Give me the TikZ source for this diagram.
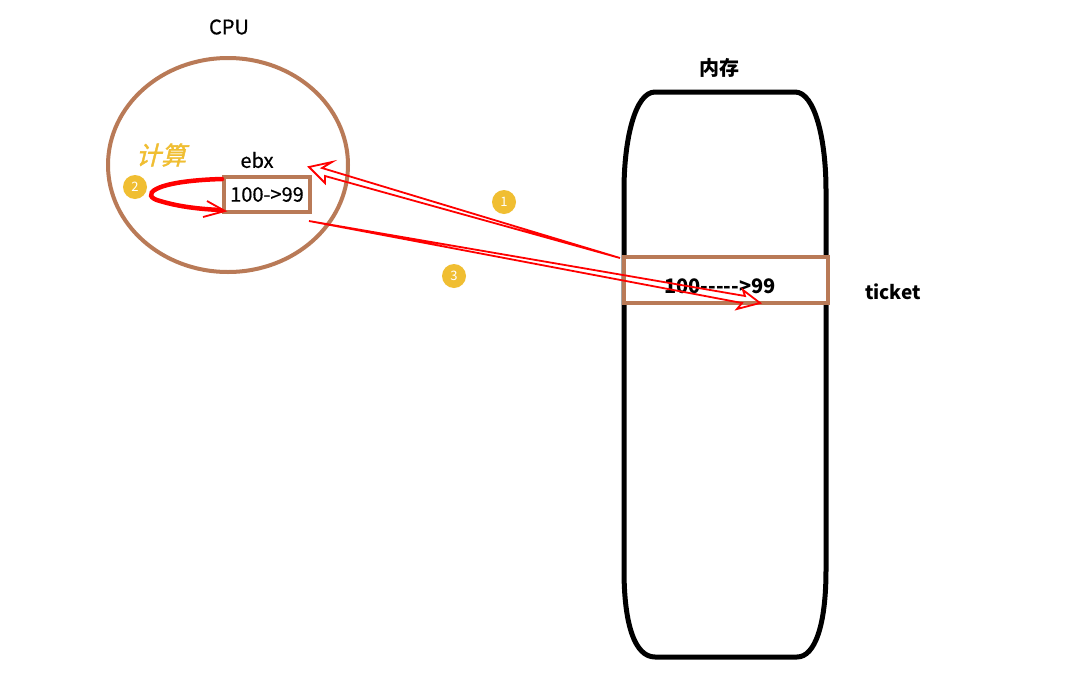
\documentclass[tikz,border=0pt]{standalone}
\usepackage{fontspec}
\setmainfont{Noto Sans CJK SC}
\newfontfamily\slantcjk[FakeSlant=0.25,FakeBold=1.5]{Noto Sans CJK SC}
\newfontfamily\medcjk[FakeBold=0.6]{Noto Sans CJK SC}
\definecolor{brownc}{HTML}{B97A57}
\definecolor{redc}{HTML}{FF0000}
\definecolor{yelc}{HTML}{F0BE32}
\tikzset{
  brownline/.style={draw=brownc, line width=4pt},
  numdot/.style={circle, fill=yelc, minimum size=24pt, inner sep=0pt, text=white, font=\fontsize{13}{14}\selectfont},
  redthin/.style={draw=redc, line width=1.8pt, line join=miter},
  lbl/.style={inner sep=0pt, text=black},
}
\begin{document}
\begin{tikzpicture}[x=1pt,y=-1pt]
\useasboundingbox (0,0) rectangle (1087,683);
\fill[white] (0,0) rectangle (1087,683);

% CPU
\node[lbl, font=\fontsize{20}{22}\medcjk] (cpulbl) at (229,27) {CPU};
\draw[brownline] (228,165) ellipse [x radius=120, y radius=107];
\node[lbl, text=yelc, font=\fontsize{25}{27}\slantcjk] (calc) at (161,155) {计算};
\node[lbl, font=\fontsize{20}{22}\medcjk] (ebx) at (257,160) {ebx};
\node[brownline, minimum width=86pt, minimum height=35pt, inner sep=0pt, font=\fontsize{20}{22}\medcjk] (reg) at (267,194.5) {100{-}>99};
\node[numdot] (n2) at (135,187) {2};

% curved arrow 2
\draw[draw=redc, line width=4.5pt, line cap=round] (222,179) .. controls (150,181) and (140,196) .. (160,201) .. controls (180,207) and (200,209) .. (220,210);
\draw[redthin] (207,201) -- (225,211) -- (203,217);

% memory
\node[lbl, font=\fontsize{20}{22}\selectfont\bfseries] (memlbl) at (719,68) {内存};
\draw[line width=5pt] (655,92) -- (795,92) .. controls (815,92) and (826,140) .. (826,190)
  -- (826,570) .. controls (826,625) and (815,657) .. (797,657)
  -- (655,657) .. controls (635,657) and (624,625) .. (624,570)
  -- (624,190) .. controls (624,140) and (635,92) .. (655,92) -- cycle;
\node[brownline, fill=white, minimum width=204pt, minimum height=46pt, inner sep=0pt] (cell) at (726,280) {};
\node[lbl, font=\fontsize{20}{22}\selectfont\bfseries] (celltext) at (720,286) {100{-}{-}{-}{-}{-}>99};
\node[lbl, font=\fontsize{19}{21}\selectfont\bfseries] (ticket) at (893,292) {ticket};

% arrow 1 (memory -> register)
\coordinate (a1tail) at (620,258);
\draw[redthin] (a1tail) -- (322,168) -- (332,162) -- (309,167) -- (325,183) -- (325,176) -- cycle;
\node[numdot] (n1) at (504,202) {1};

% arrow 3 (register -> memory)
\coordinate (a3tail) at (309,221);
\draw[redthin] (a3tail) -- (745,296) -- (743,290) -- (760,303) -- (737,309) -- (742,303) -- cycle;
\node[numdot] (n3) at (454,276) {3};
\end{tikzpicture}
\end{document}
